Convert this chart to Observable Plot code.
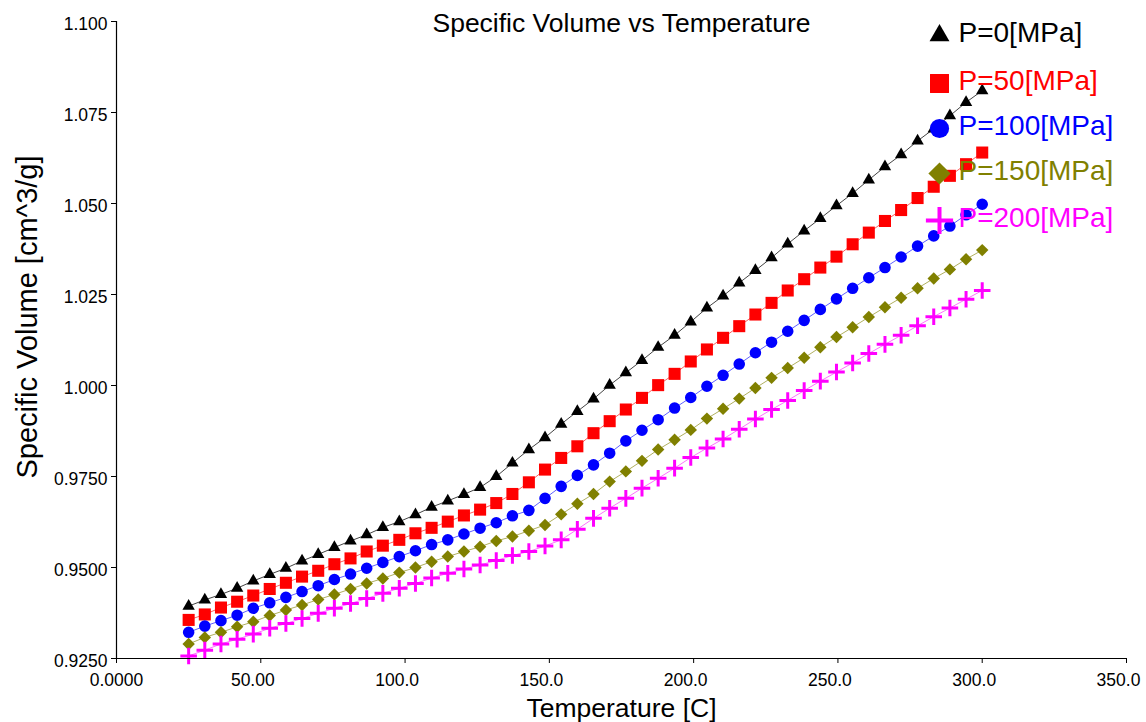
<!DOCTYPE html>
<html>
<head>
<meta charset="utf-8">
<script src="https://cdn.jsdelivr.net/npm/d3@7"></script>
<script src="https://cdn.jsdelivr.net/npm/@observablehq/plot@0.6"></script>
<style>
  html, body { margin: 0; padding: 0; background: #fff; }
  #chart svg { display: block; }
</style>
</head>
<body>
<div id="chart"></div>
<script>
const temperature = [25.0, 30.6, 36.2, 41.8, 47.4, 53.1, 58.7, 64.3, 69.9, 75.5,
  81.1, 86.7, 92.3, 98.0, 103.6, 109.2, 114.8, 120.4, 126.0, 131.6,
  137.2, 142.9, 148.5, 154.1, 159.7, 165.3, 170.9, 176.5, 182.1, 187.7,
  193.4, 199.0, 204.6, 210.2, 215.8, 221.4, 227.0, 232.6, 238.3, 243.9,
  249.5, 255.1, 260.7, 266.3, 271.9, 277.6, 283.2, 288.8, 294.4, 300.0];

const p0 = [0.9394, 0.9411, 0.9426, 0.9443, 0.9463, 0.9481, 0.9498, 0.9518, 0.9536, 0.9555,
  0.9573, 0.9590, 0.9610, 0.9626, 0.9645, 0.9666, 0.9683, 0.9701, 0.9720, 0.9750,
  0.9787, 0.9824, 0.9857, 0.9894, 0.9929, 0.9963, 1.0001, 1.0035, 1.0069, 1.0105,
  1.0138, 1.0175, 1.0213, 1.0246, 1.0282, 1.0316, 1.0351, 1.0389, 1.0425, 1.0459,
  1.0494, 1.0528, 1.0565, 1.0601, 1.0634, 1.0672, 1.0705, 1.0741, 1.0778, 1.0810];

const p50 = [0.9356, 0.9371, 0.9390, 0.9406, 0.9423, 0.9441, 0.9458, 0.9475, 0.9491, 0.9509,
  0.9525, 0.9544, 0.9560, 0.9576, 0.9594, 0.9609, 0.9626, 0.9643, 0.9659, 0.9677,
  0.9702, 0.9734, 0.9769, 0.9801, 0.9833, 0.9869, 0.9902, 0.9934, 0.9966, 1.0001,
  1.0032, 1.0066, 1.0099, 1.0131, 1.0163, 1.0195, 1.0227, 1.0261, 1.0292, 1.0324,
  1.0354, 1.0388, 1.0420, 1.0452, 1.0482, 1.0515, 1.0546, 1.0576, 1.0608, 1.0640];

const p100 = [0.9322, 0.9339, 0.9354, 0.9369, 0.9388, 0.9403, 0.9418, 0.9434, 0.9450, 0.9467,
  0.9482, 0.9498, 0.9514, 0.9530, 0.9546, 0.9563, 0.9576, 0.9592, 0.9608, 0.9623,
  0.9642, 0.9657, 0.9690, 0.9723, 0.9753, 0.9782, 0.9814, 0.9848, 0.9877, 0.9906,
  0.9938, 0.9967, 0.9998, 1.0028, 1.0059, 1.0090, 1.0119, 1.0149, 1.0179, 1.0209,
  1.0238, 1.0267, 1.0296, 1.0324, 1.0353, 1.0383, 1.0411, 1.0438, 1.0469, 1.0498];

const p150 = [0.9290, 0.9308, 0.9322, 0.9337, 0.9351, 0.9368, 0.9383, 0.9397, 0.9412, 0.9426,
  0.9441, 0.9456, 0.9470, 0.9486, 0.9500, 0.9516, 0.9530, 0.9544, 0.9557, 0.9573,
  0.9585, 0.9601, 0.9617, 0.9646, 0.9675, 0.9702, 0.9736, 0.9764, 0.9793, 0.9824,
  0.9851, 0.9878, 0.9909, 0.9936, 0.9964, 0.9993, 1.0021, 1.0048, 1.0076, 1.0105,
  1.0133, 1.0160, 1.0188, 1.0215, 1.0241, 1.0267, 1.0294, 1.0319, 1.0347, 1.0372];

const p200 = [0.9257, 0.9273, 0.9290, 0.9303, 0.9317, 0.9333, 0.9346, 0.9360, 0.9374, 0.9388,
  0.9401, 0.9415, 0.9429, 0.9443, 0.9456, 0.9471, 0.9484, 0.9496, 0.9507, 0.9519,
  0.9533, 0.9544, 0.9559, 0.9576, 0.9605, 0.9635, 0.9663, 0.9690, 0.9718, 0.9745,
  0.9773, 0.9802, 0.9828, 0.9853, 0.9880, 0.9908, 0.9934, 0.9959, 0.9986, 1.0012,
  1.0037, 1.0062, 1.0088, 1.0113, 1.0138, 1.0164, 1.0189, 1.0213, 1.0237, 1.0261];

const seriesNames = ["P=0[MPa]", "P=50[MPa]", "P=100[MPa]", "P=150[MPa]", "P=200[MPa]"];
const seriesValues = [p0, p50, p100, p150, p200];

const xTicks = [0, 50, 100, 150, 200, 250, 300, 350];
const xTickLabels = ["0.0000", "50.00", "100.0", "150.0", "200.0", "250.0", "300.0", "350.0"];
const yTicks = [0.925, 0.95, 0.975, 1.0, 1.025, 1.05, 1.075, 1.1];
const yTickLabels = ["0.9250", "0.9500", "0.9750", "1.000", "1.025", "1.050", "1.075", "1.100"];

const titleText = "Specific Volume vs Temperature";
const xLabel = "Temperature [C]";
const yLabel = "Specific Volume [cm^3/g]";

// styling per series
const styles = [
  {color: "#000000", line: "#444444", symbol: "triangle", r: 4.6, lr: 7.4, stroke: false},
  {color: "#ff0000", line: "#ff6060", symbol: "square", r: 6.8, lr: 10.7, stroke: false},
  {color: "#0000ff", line: "#6060ff", symbol: "circle", r: 5.8, lr: 9.6, stroke: false},
  {color: "#808000", line: "#b0b060", symbol: "diamond2", r: 5.6, lr: 10, stroke: false},
  {color: "#ff00ff", line: "#ff70ff", symbol: "plus", r: 5.4, lr: 8.8, stroke: true}
];

const tables = seriesValues.map((vals, s) => temperature.map((t, i) => ({t, v: vals[i], s: seriesNames[s]})));

const font = "'Liberation Sans', Arial, Helvetica, sans-serif";
const marks = [];

tables.forEach((tbl, s) => {
  const st = styles[s];
  marks.push(Plot.line(tbl, {x: "t", y: "v", stroke: st.line, strokeWidth: 1}));
});
tables.forEach((tbl, s) => {
  const st = styles[s];
  if (st.stroke) {
    marks.push(Plot.dot(tbl, {x: "t", y: "v", symbol: () => st.symbol, r: st.r, stroke: st.color, strokeWidth: 3, fill: "none"}));
  } else {
    marks.push(Plot.dot(tbl, {x: "t", y: "v", symbol: () => st.symbol, r: st.r, fill: st.color, stroke: "none"}));
  }
});

// axes: ticks via axis marks, labels via text marks positioned through the scales
marks.push(Plot.axisX({ticks: xTicks, tickSize: 5, text: null, label: null, stroke: "#000"}));
marks.push(Plot.axisY({ticks: yTicks, tickSize: 5, text: null, label: null, stroke: "#000"}));
marks.push(Plot.text(xTicks.slice(0, 1), {x: d => d, frameAnchor: "bottom", dy: 22, text: d => xTickLabels[xTicks.indexOf(d)], textAnchor: "middle", lineAnchor: "middle", fontSize: 17.5, fill: "#000"}));
marks.push(Plot.text(xTicks.slice(1), {x: d => d, frameAnchor: "bottom", dx: -8, dy: 22, text: d => xTickLabels[xTicks.indexOf(d)], textAnchor: "middle", lineAnchor: "middle", fontSize: 17.5, fill: "#000"}));
marks.push(Plot.text(yTicks, {y: d => d, frameAnchor: "left", dx: -9, dy: 2.5, text: (d, i) => yTickLabels[i], textAnchor: "end", lineAnchor: "middle", fontSize: 17.5, fill: "#000"}));
marks.push(Plot.ruleX([0], {stroke: "#000", strokeWidth: 1.2}));
marks.push(Plot.ruleY([0.925], {stroke: "#000", strokeWidth: 1.2}));

// title and axis labels
marks.push(Plot.text([titleText], {frameAnchor: "top", dy: 2, text: d => d, textAnchor: "middle", fontSize: 26.5, fill: "#000", lineAnchor: "middle"}));
marks.push(Plot.text([xLabel], {frameAnchor: "bottom", dy: 50, text: d => d, textAnchor: "middle", fontSize: 26.5, fill: "#000", lineAnchor: "middle"}));
marks.push(Plot.text([yLabel], {frameAnchor: "left", dx: -89, dy: -23, rotate: -90, text: d => d, textAnchor: "middle", fontSize: 29, fill: "#000", lineAnchor: "middle"}));

// legend
const legendDy = [14, 62, 107, 152, 199];
styles.forEach((st, s) => {
  if (st.stroke) {
    marks.push(Plot.dot([0], {frameAnchor: "top-left", dx: 823, dy: legendDy[s], symbol: () => st.symbol, r: st.lr, stroke: st.color, strokeWidth: 4, fill: "none"}));
  } else {
    marks.push(Plot.dot([0], {frameAnchor: "top-left", dx: 823, dy: legendDy[s], symbol: () => st.symbol, r: st.lr, fill: st.color, stroke: "none"}));
  }
  marks.push(Plot.text([seriesNames[s]], {frameAnchor: "top-left", dx: 842, dy: legendDy[s] - 2, text: d => d, textAnchor: "start", lineAnchor: "middle", fontSize: 28, fill: st.color}));
});

const chart = Plot.plot({
  width: 1146,
  height: 722,
  marginLeft: 116,
  marginRight: 20,
  marginTop: 21,
  marginBottom: 64,
  style: {fontFamily: font, background: "#fff", color: "#000", overflow: "visible"},
  x: {domain: [0, 350]},
  y: {domain: [0.925, 1.1]},
  marks
});
document.getElementById("chart").appendChild(chart);
</script>
</body>
</html>
